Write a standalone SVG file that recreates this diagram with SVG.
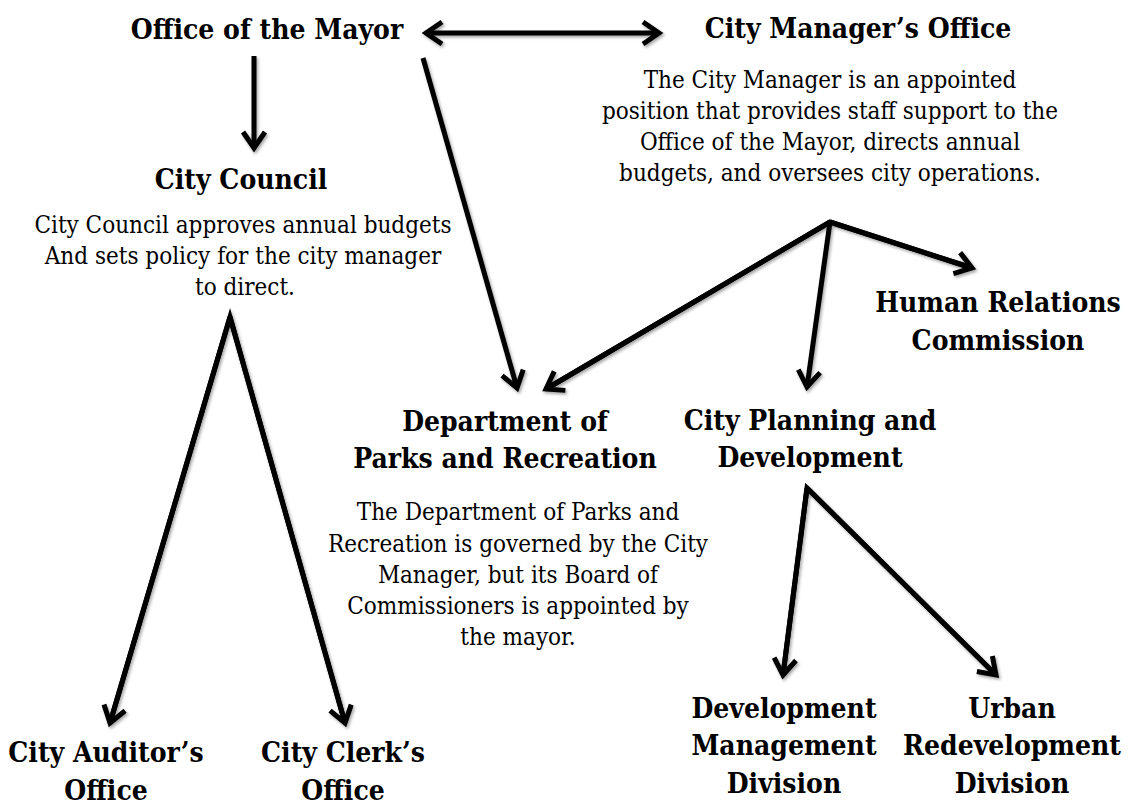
<svg xmlns="http://www.w3.org/2000/svg" width="1139" height="808" viewBox="0 0 1139 808">
<style>
.h{font-family:"DejaVu Serif Condensed","DejaVu Serif",serif;font-weight:bold;font-size:28px;fill:#000;text-anchor:middle}
.b{font-family:"DejaVu Serif Condensed","DejaVu Serif",serif;font-size:24px;fill:#000;text-anchor:middle}
.c{fill:none;stroke:#000;stroke-width:5;stroke-linejoin:miter}
</style>
<defs>
<marker id="ah" viewBox="-22 -15 27 30" markerWidth="27" markerHeight="30" refX="0" refY="0" orient="auto-start-reverse" markerUnits="userSpaceOnUse">
<path d="M -16 -11 L 0 0 L -16 11" fill="none" stroke="#000" stroke-width="5" stroke-linejoin="miter"/>
</marker>
<filter id="sh" x="-10%" y="-10%" width="120%" height="120%">
<feDropShadow dx="1.5" dy="2" stdDeviation="1.5" flood-color="#000" flood-opacity="0.35"/>
</filter>
</defs>
<rect width="1139" height="808" fill="#fff"/>
<g id="connectors" filter="url(#sh)">
<line class="c" x1="426" y1="33" x2="659" y2="33" marker-start="url(#ah)" marker-end="url(#ah)"/>
<line class="c" x1="254" y1="56" x2="254" y2="148" marker-end="url(#ah)"/>
<line class="c" x1="423" y1="58" x2="517" y2="388" marker-end="url(#ah)"/>
<polyline class="c" points="110,723 230,317 345,723"/>
<line class="c" x1="230" y1="317" x2="110" y2="723" marker-end="url(#ah)"/>
<line class="c" x1="230" y1="317" x2="345" y2="723" marker-end="url(#ah)"/>
<polyline class="c" points="546,389 830,222 972,268"/>
<line class="c" x1="830" y1="222" x2="546" y2="389" marker-end="url(#ah)"/>
<line class="c" x1="830" y1="222" x2="807" y2="387" marker-end="url(#ah)"/>
<line class="c" x1="830" y1="222" x2="972" y2="268" marker-end="url(#ah)"/>
<polyline class="c" points="783,675 807,488 996,675"/>
<line class="c" x1="807" y1="488" x2="783" y2="675" marker-end="url(#ah)"/>
<line class="c" x1="807" y1="488" x2="996" y2="675" marker-end="url(#ah)"/>
</g>
<g id="mayor"><text class="h" x="267" y="39">Office of the Mayor</text></g>
<g id="manager"><text class="h" x="858" y="38">City Manager’s Office</text>
<text class="b" x="830" y="88">The City Manager is an appointed</text>
<text class="b" x="830" y="119">position that provides staff support to the</text>
<text class="b" x="830" y="150">Office of the Mayor, directs annual</text>
<text class="b" x="830" y="181">budgets, and oversees city operations.</text></g>
<g id="council"><text class="h" x="241" y="189">City Council</text>
<text class="b" x="243" y="233">City Council approves annual budgets</text>
<text class="b" x="243" y="264">And sets policy for the city manager</text>
<text class="b" x="245" y="295">to direct.</text></g>
<g id="auditor"><text class="h" x="106" y="762">City Auditor’s</text><text class="h" x="106" y="800">Office</text></g>
<g id="clerk"><text class="h" x="343" y="762">City Clerk’s</text><text class="h" x="343" y="800">Office</text></g>
<g id="hrc"><text class="h" x="998" y="312">Human Relations</text><text class="h" x="998" y="350">Commission</text></g>
<g id="parks"><text class="h" x="505" y="431">Department of</text><text class="h" x="505" y="468">Parks and Recreation</text>
<text class="b" x="518" y="520">The Department of Parks and</text>
<text class="b" x="518" y="552">Recreation is governed by the City</text>
<text class="b" x="518" y="583">Manager, but its Board of</text>
<text class="b" x="518" y="614">Commissioners is appointed by</text>
<text class="b" x="518" y="645">the mayor.</text></g>
<g id="planning"><text class="h" x="810" y="430">City Planning and</text><text class="h" x="810" y="467">Development</text></g>
<g id="devmgmt"><text class="h" x="784" y="718">Development</text><text class="h" x="784" y="755">Management</text><text class="h" x="784" y="793">Division</text></g>
<g id="urban"><text class="h" x="1012" y="718">Urban</text><text class="h" x="1012" y="755">Redevelopment</text><text class="h" x="1012" y="793">Division</text></g>
</svg>
